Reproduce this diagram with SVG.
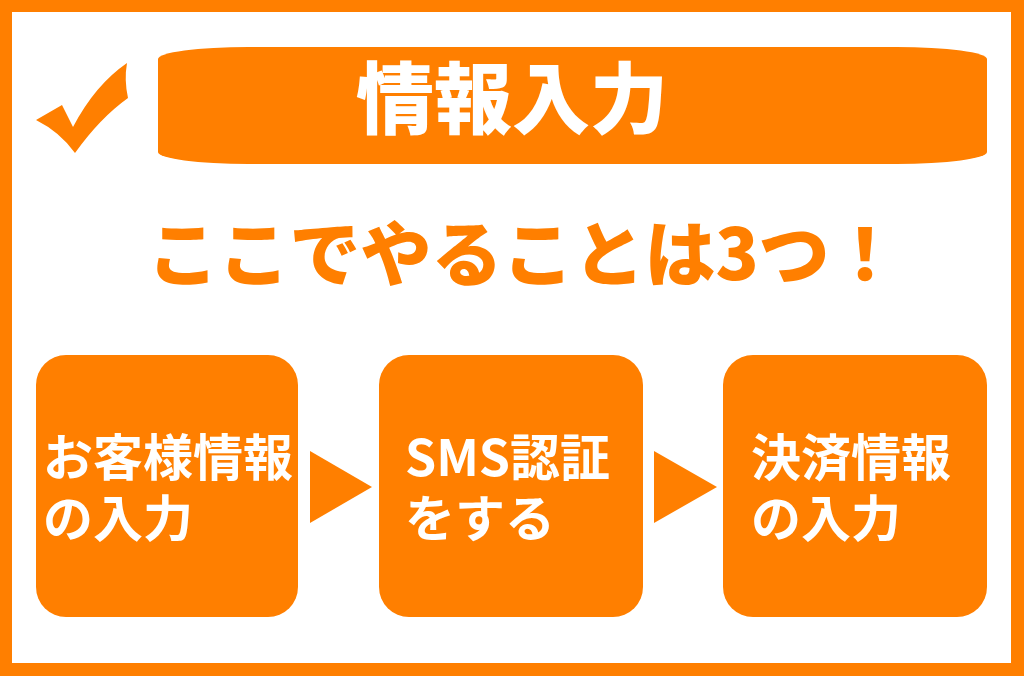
<svg xmlns="http://www.w3.org/2000/svg" width="1024" height="676" viewBox="0 0 1024 676">
<style>
.o{fill:#FF7F00}
.w{fill:#FFFFFF}
.t{font-family:"Noto Sans CJK JP","Noto Sans",sans-serif;font-weight:700;fill:#FFFFFF;font-size:50px}
.h{font-family:"Noto Sans CJK JP","Noto Sans",sans-serif;font-weight:900;fill:#FF7F00}
</style>
<rect x="0" y="0" width="1024" height="676" class="o"/>
<rect x="12" y="12" width="999" height="651" class="w"/>
<g id="check">
<path class="o" d="M36,120 L62,105 L73,127 Q95,85 127,63 Q124,80 128,98 Q100,118 75,153 Q60,132 36,120 Z"/>
</g>
<g id="banner">
<rect x="158" y="47" width="829" height="117" rx="90" ry="12" class="o"/>
<text x="512" y="128" text-anchor="middle" style="font-family:'Noto Sans CJK JP','Noto Sans',sans-serif;font-weight:900;font-size:78px;fill:#FFFFFF">情報入力</text>
</g>
<g id="heading">
<text x="524" y="280" text-anchor="middle" class="h" style="font-size:71px">ここでやることは3つ！</text>
</g>
<g id="node1">
<rect x="36" y="355" width="262" height="262" rx="30" class="o"/>
<text class="t"><tspan x="43" y="476">お客様情報</tspan><tspan x="43" y="537">の入力</tspan></text>
</g>
<g id="node2">
<rect x="379" y="355" width="264" height="262" rx="30" class="o"/>
<text class="t"><tspan x="405" y="476">SMS認証</tspan><tspan x="405" y="537">をする</tspan></text>
</g>
<g id="node3">
<rect x="723" y="355" width="264" height="262" rx="30" class="o"/>
<text class="t"><tspan x="751" y="476">決済情報</tspan><tspan x="751" y="537">の入力</tspan></text>
</g>
<g id="connectors">
<polygon class="o" points="310,451 310,523 372,487"/>
<polygon class="o" points="654,451 654,523 717,487"/>
</g>
</svg>
